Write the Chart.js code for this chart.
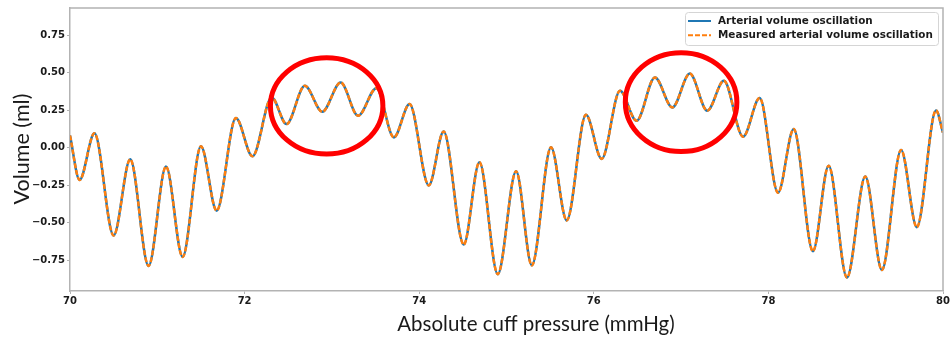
<!DOCTYPE html>
<html>
<head>
<meta charset="utf-8">
<script src="https://cdn.jsdelivr.net/npm/chart.js@4.4.1/dist/chart.umd.min.js"></script>
<style>
  html, body { margin: 0; padding: 0; background: #fff; }
  #wrap { position: relative; width: 952px; height: 338px; }
</style>
</head>
<body>
<div id="wrap"><canvas id="chart"></canvas></div>
<script>
// cuff pressure (mmHg) at each turning point of the oscillation
const pressure = [
  70.00, 70.11, 70.28, 70.50, 70.69, 70.90, 71.10, 71.29, 71.50, 71.68,
  71.90, 72.09, 72.31, 72.48, 72.69, 72.89, 73.10, 73.30, 73.51, 73.71,
  73.89, 74.11, 74.28, 74.51, 74.69, 74.90, 75.11, 75.29, 75.51, 75.69,
  75.91, 76.09, 76.30, 76.49, 76.70, 76.90, 77.10, 77.30, 77.49, 77.71,
  77.90, 78.11, 78.29, 78.51, 78.69, 78.90, 79.11, 79.30, 79.52, 79.70,
  79.92, 80.00
];
// volume (ml) at those points
const arterialVolume = [
  0.080, -0.215, 0.095, -0.585, -0.078, -0.788, -0.126, -0.728, 0.009, -0.420,
  0.197, -0.058, 0.334, 0.157, 0.412, 0.239, 0.434, 0.212, 0.396, 0.068,
  0.290, -0.252, 0.108, -0.646, -0.097, -0.843, -0.157, -0.784, 0.002, -0.485,
  0.219, -0.075, 0.378, 0.179, 0.467, 0.268, 0.493, 0.246, 0.445, 0.073,
  0.330, -0.300, 0.124, -0.690, -0.120, -0.865, -0.193, -0.815, -0.015, -0.530,
  0.248, 0.100
];
// the measured signal sits on top of the true one
const measuredVolume = arterialVolume.slice();

const xTicks = [70, 72, 74, 76, 78, 80];
const yTicks = [-0.75, -0.5, -0.25, 0, 0.25, 0.5, 0.75];

const xTitle = 'Absolute cuff pressure (mmHg)';
const yTitle = 'Volume (ml)';

// regions circled in red: centre and half-axes in data units
const highlights = [
  { x: 72.94, y: 0.278, rx: 0.644, ry: 0.321 },
  { x: 77.00, y: 0.303, rx: 0.639, ry: 0.329 }
];

const AXIS_GREY = '#b3b3b3';
const TEXT = '#1a1a1a';
const TICK_FONT = { family: 'DejaVu Sans', size: 10, weight: 'bold' };

function toPoints(xs, ys) {
  return xs.map((x, i) => ({ x: x, y: ys[i] }));
}

function fmtTick(v) {
  const s = Math.abs(v).toFixed(2);
  return v < 0 ? '\u2212' + s : s;
}

// spines, axis titles, red circles and the boxed legend
const overlay = {
  id: 'overlay',
  afterDatasetsDraw(chart) {
    const { ctx, chartArea: a, scales } = chart;
    const xs = scales.x, ys = scales.y;

    ctx.save();
    ctx.strokeStyle = AXIS_GREY;
    ctx.lineWidth = 1.5;
    ctx.beginPath();
    ctx.moveTo(a.left, a.top);
    ctx.lineTo(a.right, a.top);
    ctx.lineTo(a.right, a.bottom);
    ctx.stroke();

    // axis titles sit a little right of the plot centre
    ctx.fillStyle = TEXT;
    ctx.textAlign = 'center';
    ctx.textBaseline = 'middle';
    ctx.font = '20.5px Lato';
    ctx.fillText(xTitle, 536, 324);
    ctx.save();
    ctx.font = '21.5px Lato';
    ctx.translate(22, 149);
    ctx.rotate(-Math.PI / 2);
    ctx.fillText(yTitle, 0, 0);
    ctx.restore();

    ctx.strokeStyle = '#ff0000';
    ctx.lineWidth = 5;
    highlights.forEach(h => {
      const cx = xs.getPixelForValue(h.x);
      const cy = ys.getPixelForValue(h.y);
      const rx = Math.abs(xs.getPixelForValue(h.x + h.rx) - cx);
      const ry = Math.abs(ys.getPixelForValue(h.y + h.ry) - cy);
      ctx.beginPath();
      ctx.ellipse(cx, cy, rx, ry, 0, 0, Math.PI * 2);
      ctx.stroke();
    });

    // legend
    const boxL = 685, boxT = 12, boxW = 253, boxH = 33, rowH = 14.3;
    ctx.fillStyle = 'rgba(255,255,255,0.85)';
    ctx.strokeStyle = '#d5d5d5';
    ctx.lineWidth = 1;
    ctx.beginPath();
    ctx.roundRect(boxL + 0.5, boxT + 0.5, boxW, boxH, 3);
    ctx.fill();
    ctx.stroke();

    ctx.font = 'bold 10.4px "DejaVu Sans"';
    ctx.textAlign = 'left';
    chart.data.datasets.forEach((ds, i) => {
      const y = boxT + 9 + i * rowH;
      ctx.strokeStyle = ds.borderColor;
      ctx.lineWidth = 2;
      ctx.setLineDash(ds.borderDash || []);
      ctx.beginPath();
      ctx.moveTo(boxL + 3, y);
      ctx.lineTo(boxL + 26, y);
      ctx.stroke();
      ctx.setLineDash([]);
      ctx.fillStyle = TEXT;
      ctx.fillText(ds.label, boxL + 33, y);
    });
    ctx.restore();
  }
};

new Chart(document.getElementById('chart'), {
  type: 'line',
  data: {
    datasets: [
      {
        label: 'Arterial volume oscillation',
        data: toPoints(pressure, arterialVolume),
        borderColor: '#1f77b4',
        borderWidth: 2.5,
        pointRadius: 0,
        cubicInterpolationMode: 'monotone',
        fill: false,
        order: 2
      },
      {
        label: 'Measured arterial volume oscillation',
        data: toPoints(pressure, measuredVolume),
        borderColor: '#ff7f0e',
        borderWidth: 2.5,
        borderDash: [5, 2],
        pointRadius: 0,
        cubicInterpolationMode: 'monotone',
        fill: false,
        order: 1
      }
    ]
  },
  options: {
    responsive: true,
    maintainAspectRatio: false,
    animation: false,
    layout: { padding: { top: 7, right: 9, left: 0, bottom: 0 } },
    plugins: {
      legend: { display: false },
      tooltip: { enabled: false }
    },
    scales: {
      x: {
        type: 'linear',
        min: 70,
        max: 80,
        afterBuildTicks: s => { s.ticks = xTicks.map(v => ({ value: v })); },
        afterFit: s => { s.height = 47; },
        ticks: {
          font: TICK_FONT,
          color: TEXT,
          padding: 1,
          maxRotation: 0,
          callback: v => String(v)
        },
        grid: { drawOnChartArea: false, drawTicks: true, tickLength: 3, color: AXIS_GREY, lineWidth: 1 },
        border: { color: AXIS_GREY, width: 1.5 }
      },
      y: {
        min: -0.955,
        max: 0.93,
        afterBuildTicks: s => { s.ticks = yTicks.map(v => ({ value: v })); },
        afterFit: s => { s.width = 70; },
        ticks: {
          font: TICK_FONT,
          color: TEXT,
          padding: 2,
          callback: v => fmtTick(v)
        },
        grid: { drawOnChartArea: false, drawTicks: true, tickLength: 3, color: AXIS_GREY, lineWidth: 1 },
        border: { color: AXIS_GREY, width: 1.5 }
      }
    }
  },
  plugins: [overlay]
});
</script>
</body>
</html>
